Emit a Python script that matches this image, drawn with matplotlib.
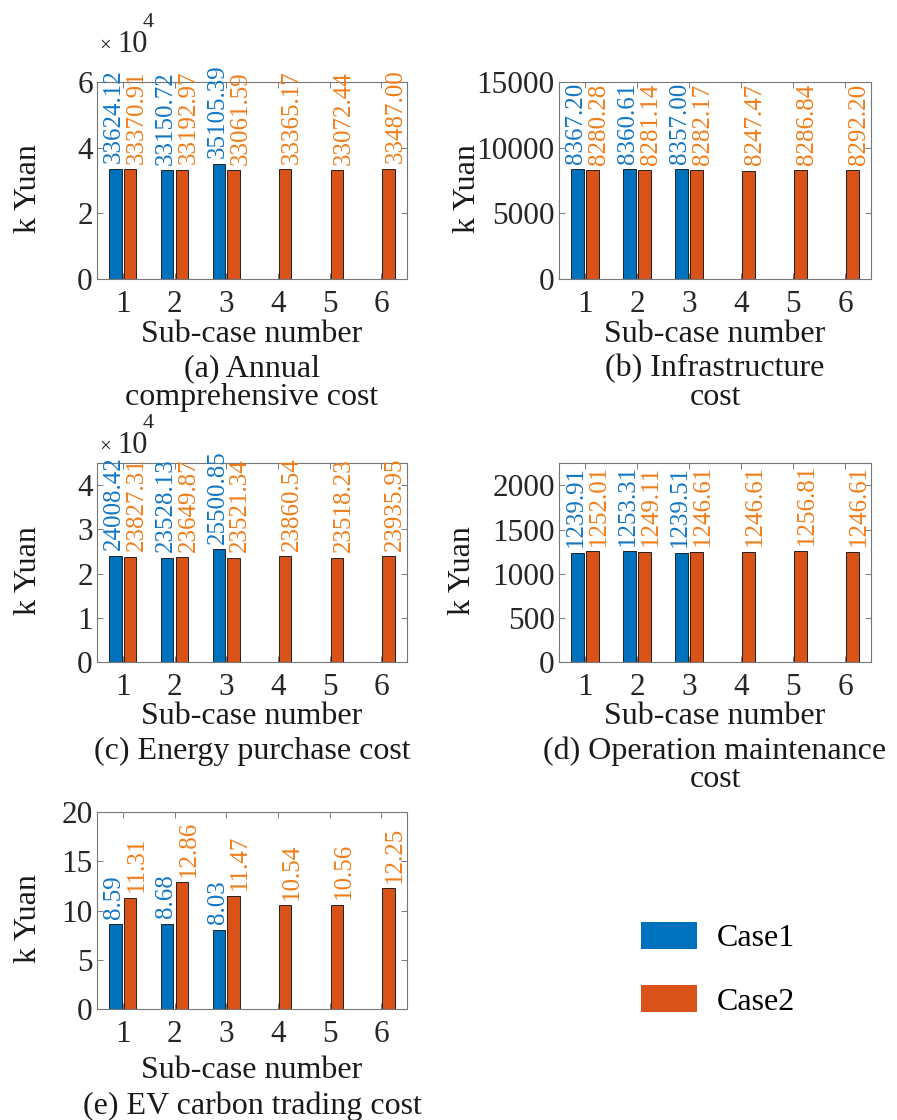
import matplotlib
matplotlib.use('Agg')
import matplotlib.pyplot as plt
from matplotlib.patches import Patch
import numpy as np

plt.rcParams['font.family'] = ['Liberation Serif', 'DejaVu Serif']

# data
subcases = [1, 2, 3, 4, 5, 6]
annual_c1 = [33624.12, 33150.72, 35105.39, 0, 0, 0]
annual_c2 = [33370.91, 33192.97, 33061.59, 33365.17, 33072.44, 33487.00]
infra_c1 = [8367.20, 8360.61, 8357.00, 0, 0, 0]
infra_c2 = [8280.28, 8281.14, 8282.17, 8247.47, 8286.84, 8292.20]
energy_c1 = [24008.42, 23528.13, 25500.85, 0, 0, 0]
energy_c2 = [23827.31, 23649.87, 23521.34, 23860.54, 23518.23, 23935.95]
om_c1 = [1239.91, 1253.31, 1239.51, 0, 0, 0]
om_c2 = [1252.01, 1249.11, 1246.61, 1246.61, 1256.81, 1246.61]
carbon_c1 = [8.59, 8.68, 8.03, 0, 0, 0]
carbon_c2 = [11.31, 12.86, 11.47, 10.54, 10.56, 12.25]

blue = '#0072BD'
orange = '#D95319'
blue_txt = '#1377C4'
orange_txt = '#EF7D1A'
txtc = '#1a1a1a'
W, H = 897, 1120

fig = plt.figure(figsize=(W/100, H/100), dpi=100)


def ax_at(l, t, r, b):
    ax = fig.add_axes([l/W, 1-b/H, (r-l)/W, (b-t)/H])
    ax.px = (l, t, r, b)
    return ax


def draw(ax, c1, c2, ylim, yticks, scale=1.0, ylab_x=28, xlab_dy=53, cap_dy=87, captions=()):
    l, t, r, b = ax.px
    w, h = r - l, b - t
    x = np.array(subcases)
    ax.bar(x-0.14, np.array(c1)/scale, 0.24, color=blue, edgecolor='#222222', linewidth=0.7)
    ax.bar(x+0.14, np.array(c2)/scale, 0.24, color=orange, edgecolor='#222222', linewidth=0.7)
    for i in range(len(x)):
        if c1[i] > 0:
            ax.annotate('%.2f' % c1[i], (x[i]-0.14, c1[i]/scale), xytext=(-1, 4),
                        textcoords='offset points', rotation=90, ha='center', va='bottom',
                        fontsize=18, color=blue_txt, annotation_clip=False)
        ax.annotate('%.2f' % c2[i], (x[i]+0.14, c2[i]/scale), xytext=(5, 4),
                    textcoords='offset points', rotation=90, ha='center', va='bottom',
                    fontsize=18, color=orange_txt, annotation_clip=False)
    ax.set_xlim(0.5, 6.5)
    ax.set_ylim(0, ylim)
    ax.set_xticks(subcases)
    ax.set_yticks(yticks)
    ax.tick_params(direction='in', length=4, width=0.6, colors='#666666', labelcolor='#262626',
                   labelsize=22.5, top=True, right=True)
    ax.tick_params(axis='x', pad=8)
    ax.tick_params(axis='y', pad=3)
    for s in ax.spines.values():
        s.set_color('#777777')
        s.set_linewidth(0.8)
    ax.set_ylabel('k Yuan', fontsize=23, color=txtc, va='center', ha='center')
    ax.yaxis.set_label_coords(-(l - ylab_x)/w, 0.46)
    ax.set_xlabel('Sub-case number', fontsize=23, color=txtc, va='center', ha='center')
    ax.xaxis.set_label_coords(0.5, -(xlab_dy + 3)/h)
    for j, c in enumerate(captions):
        ax.text(0.5, -(cap_dy + 3 + j*28.5)/h, c, transform=ax.transAxes, ha='center', va='center',
                fontsize=23, color=txtc)


def multiplier(ax, base_y):
    # base_y: pixel row of the bottom of the "10"
    tr = fig.transFigure
    fig.text(99/W, 1-(base_y-1)/H, '\u00d7', transform=tr, fontsize=15, ha='left', va='baseline', color='#262626')
    fig.text(117/W, 1-base_y/H, '10', transform=tr, fontsize=22, ha='left', va='baseline', color='#262626')
    fig.text(143/W, 1-(base_y-25)/H, '4', transform=tr, fontsize=16, ha='left', va='baseline', color='#262626')


ax1 = ax_at(97, 82, 407, 279)
draw(ax1, annual_c1, annual_c2, 6, [0, 2, 4, 6], scale=1e4, ylab_x=28,
     captions=['(a) Annual', 'comprehensive cost'])
multiplier(ax1, 52)

ax2 = ax_at(559, 82, 871, 279)
draw(ax2, infra_c1, infra_c2, 15000, [0, 5000, 10000, 15000], ylab_x=467,
     captions=['(b) Infrastructure', 'cost'])

ax3 = ax_at(97, 463, 407, 662)
draw(ax3, energy_c1, energy_c2, 4.5, [0, 1, 2, 3, 4], scale=1e4, ylab_x=28, xlab_dy=52, cap_dy=86,
     captions=['(c) Energy purchase cost'])
multiplier(ax3, 453)

ax4 = ax_at(559, 463, 871, 662)
draw(ax4, om_c1, om_c2, 2254, [0, 500, 1000, 1500, 2000], ylab_x=462, xlab_dy=52, cap_dy=86,
     captions=['(d) Operation maintenance', 'cost'])

ax5 = ax_at(97, 812, 407, 1009)
draw(ax5, carbon_c1, carbon_c2, 20, [0, 5, 10, 15, 20], ylab_x=28, xlab_dy=58, cap_dy=94,
     captions=['(e) EV carbon trading cost'])

handles = [Patch(facecolor=blue, edgecolor='none'), Patch(facecolor=orange, edgecolor='none')]
fig.legend(handles, ['Case1', 'Case2'], loc='upper left', bbox_to_anchor=(641/W, 1-922/H),
           frameon=False, fontsize=23, handlelength=1.76, handleheight=0.9,
           handletextpad=0.62, labelspacing=1.0, borderpad=0, borderaxespad=0)

fig.savefig('out.png', dpi=100)
